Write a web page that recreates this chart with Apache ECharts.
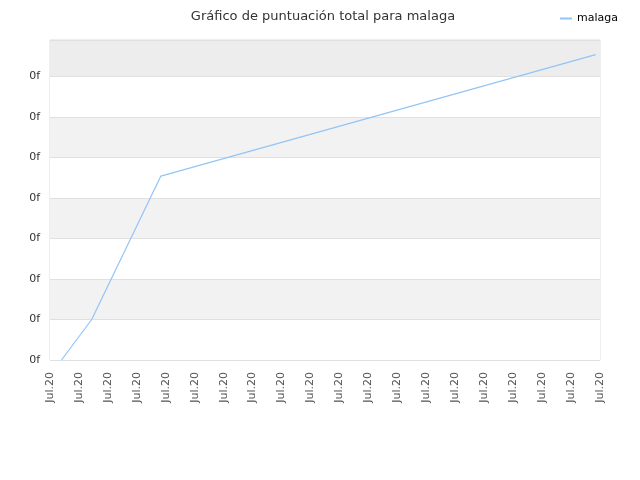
<!DOCTYPE html>
<html>
<head>
<meta charset="utf-8">
<script src="https://cdn.jsdelivr.net/npm/echarts@6/dist/echarts.min.js"></script>
<style>html,body{margin:0;padding:0;background:#fff}#c{width:640px;height:480px}</style>
</head>
<body>
<div id="c"></div>
<script>
var titleText = 'Gráfico de puntuación total para malaga';
var seriesName = 'malaga';
var xPositions = [0.40, 1.44, 3.83, 18.85];
var yValues = [0, 1.0, 4.54, 7.54];
var xTickLabel = 'Jul.20';
var yTickLabel = '0f';

var chart = echarts.init(document.getElementById('c'));
chart.setOption({
  animation: false,
  title: {text: titleText, left: 318, textAlign: 'center', top: 5,
    textStyle: {fontFamily: 'DejaVu Sans', fontSize: 13, fontWeight: 'normal', color: '#333'}},
  legend: {right: 17, top: 8, itemWidth: 12, itemHeight: 2, itemGap: 8,
    icon: 'rect',
    textStyle: {fontFamily: 'DejaVu Sans', fontSize: 11, color: '#000'},
    data: [seriesName]},
  grid: {left: 50, right: 40, top: 40, bottom: 120, show: true, borderColor: '#ddd', borderWidth: 1},
  xAxis: {type: 'value', min: 0, max: 19, interval: 1,
    axisLine: {show: false}, axisTick: {show: false}, splitLine: {show: false},
    axisLabel: {rotate: 90, margin: 12, color: '#555', fontFamily: 'DejaVu Sans', fontSize: 11,
      formatter: function(){ return xTickLabel; }}},
  yAxis: {type: 'value', min: 0, max: 7.9, interval: 1,
    axisLine: {show: false}, axisTick: {show: false},
    splitLine: {show: true, lineStyle: {color: '#e0e0e0'}},
    splitArea: {show: true, areaStyle: {color: ['#ffffff','#f2f2f2','#ffffff','#f2f2f2','#ffffff','#f2f2f2','#ffffff','#ededed']}},
    axisLabel: {showMaxLabel: false, margin: 10, color: '#333', fontFamily: 'DejaVu Sans', fontSize: 11,
      formatter: function(){ return yTickLabel; }}},
  series: [{name: seriesName, type: 'line', showSymbol: false, symbol: 'none',
    lineStyle: {color: '#92c5f5', width: 1.2}, itemStyle: {color: '#92c5f5'},
    data: xPositions.map(function(x, i){ return [x, yValues[i]]; })}]
});
</script>
</body>
</html>
